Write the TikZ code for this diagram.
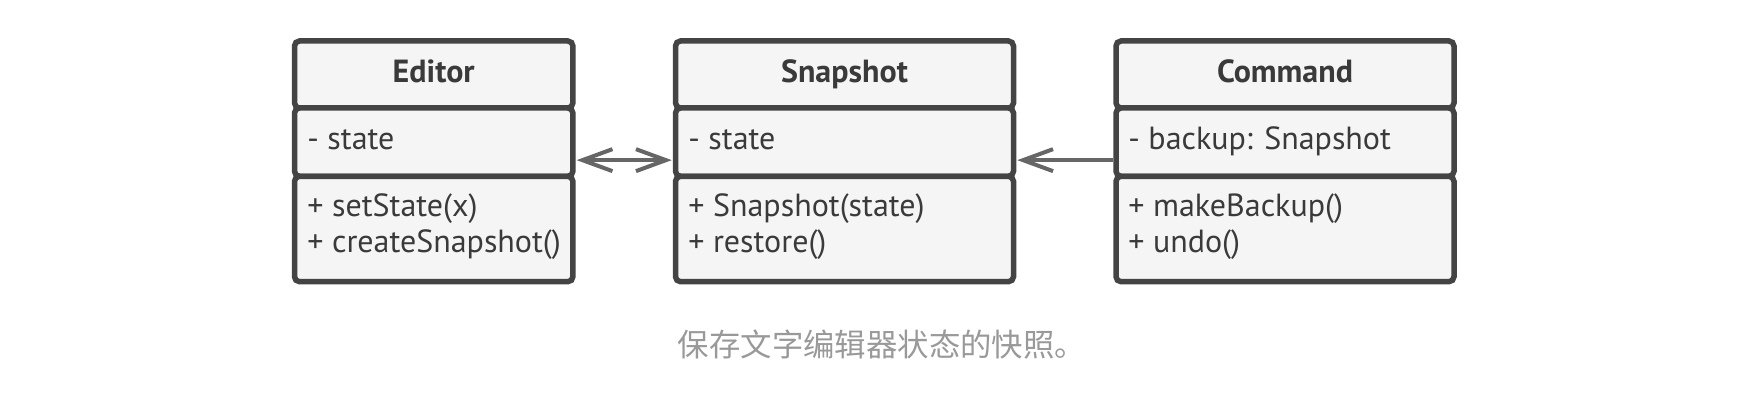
\documentclass[tikz,border=0pt]{standalone}
\usepackage{fontspec}
\setmainfont{PT Sans}
\newfontfamily\cjk{Noto Sans CJK SC}
\usetikzlibrary{arrows.meta}
\definecolor{bord}{HTML}{444444}
\definecolor{boxfill}{HTML}{F5F5F5}
\definecolor{txt}{HTML}{3A3A3A}
\definecolor{arr}{HTML}{666666}
\definecolor{capc}{HTML}{999999}
\begin{document}
\begin{tikzpicture}[x=0.5pt,y=-0.5pt,
  comp/.style={draw=bord, line width=2.75pt, fill=boxfill, rounded corners=2.5pt, inner sep=0pt, anchor=north west},
  hdr/.style={comp, minimum height=33.5pt},
  attr/.style={comp, minimum height=34.15pt},
  meth/.style={comp, minimum height=52.7pt},
  narrowbox/.style={minimum width=139.2pt},
  widebox/.style={minimum width=169pt},
  title/.style={font=\fontsize{16}{19}\selectfont\bfseries, text=txt, anchor=base, inner sep=0pt},
  member/.style={font=\fontsize{16}{19}\selectfont, text=txt, anchor=base west, inner sep=0pt},
  link/.style={draw=arr, line width=2pt, line join=miter},
  umltip/.tip={Straight Barb[length=15pt, width=11pt, line width=2pt]},
  caption/.style={font=\cjk\fontsize{15.7}{18}\selectfont, text=capc, inner sep=0pt}
]
\useasboundingbox (0,0) rectangle (1742,411);

% Editor
\node[hdr, narrowbox] (eH) at (291.75,38.25) {};
\node[attr, narrowbox] (eA) at (291.75,105.25) {};
\node[meth, narrowbox] (eM) at (291.75,173.55) {};
\node[title] (eT) at (433.7,83) {Editor};
\node[member] (eA1) at (307,150) {- state};
\node[member] (eM1) at (307,217) {+ setState(x)};
\node[member] (eM2) at (307,253) {+ createSnapshot()};

% Snapshot
\node[hdr, widebox] (sH) at (672.75,38.25) {};
\node[attr, widebox] (sA) at (672.75,105.25) {};
\node[meth, widebox] (sM) at (672.75,173.55) {};
\node[title] (sT) at (844.5,83) {Snapshot};
\node[member] (sA1) at (688,150) {- state};
\node[member] (sM1) at (688,217) {+ Snapshot(state)};
\node[member] (sM2) at (688,253) {+ restore()};

% Command
\node[hdr, widebox] (cH) at (1113.25,38.25) {};
\node[attr, widebox] (cA) at (1113.25,105.25) {};
\node[meth, widebox] (cM) at (1113.25,173.55) {};
\node[title] (cT) at (1285,83) {Command};
\node[member] (cA1) at (1128,150) {- backup: Snapshot};
\node[member] (cM1) at (1128,217) {+ makeBackup()};
\node[member] (cM2) at (1128,253) {+ undo()};

% connectors
\draw[link, umltip-umltip, shorten <=0.5pt, shorten >=0.5pt] ([yshift=-9pt]eA.east) -- ([yshift=-9pt]sA.west);
\draw[link, -umltip, shorten >=0.5pt] ([yshift=-9pt]cA.west) -- ([yshift=-9pt]sA.east);

% caption
\node[caption] (cap) at (882,345) {保存文字编辑器状态的快照。};
\end{tikzpicture}
\end{document}
